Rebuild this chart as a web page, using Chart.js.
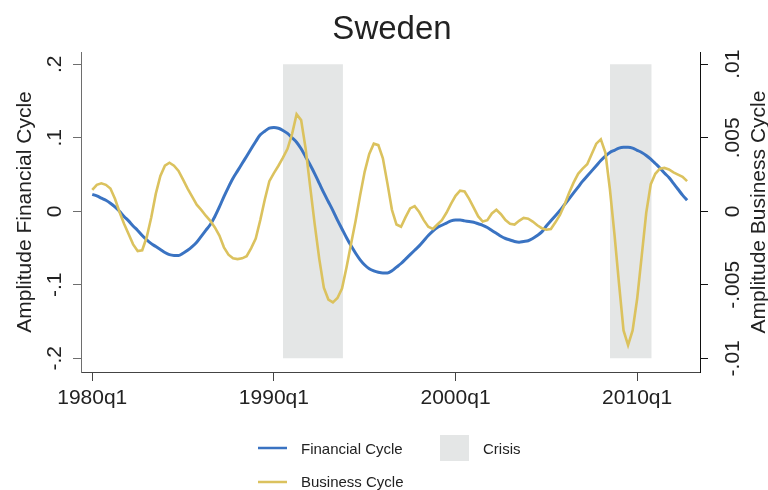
<!DOCTYPE html>
<html>
<head>
<meta charset="utf-8">
<title>Sweden</title>
<script src="https://cdn.jsdelivr.net/npm/chart.js@4.4.1/dist/chart.umd.min.js"></script>
<style>
  body { margin: 0; background: #fff; }
  #wrap { width: 768px; height: 490px; }
</style>
</head>
<body>
<div id="wrap"><canvas id="cycleChart" width="768" height="490"></canvas></div>
<script>
// quarterly, first obs 1980q1
const startYear = 1980;

const financialCycle = [
  0.023, 0.021, 0.018, 0.015, 0.011, 0.006, 0.000, -0.007, -0.013, -0.020,
  -0.026, -0.033, -0.039, -0.044, -0.048, -0.052, -0.056, -0.059, -0.060, -0.060,
  -0.057, -0.053, -0.048, -0.042, -0.034, -0.026, -0.018, -0.007, 0.006, 0.020,
  0.033, 0.045, 0.055, 0.065, 0.075, 0.085, 0.095, 0.104, 0.109, 0.113,
  0.114, 0.113, 0.110, 0.106, 0.100, 0.094, 0.085, 0.074, 0.063, 0.051,
  0.038, 0.025, 0.013, 0.001, -0.012, -0.024, -0.036, -0.047, -0.057, -0.066,
  -0.073, -0.078, -0.081, -0.083, -0.084, -0.084, -0.081, -0.076, -0.071, -0.065,
  -0.059, -0.053, -0.047, -0.040, -0.033, -0.027, -0.022, -0.019, -0.016, -0.013,
  -0.012, -0.012, -0.013, -0.014, -0.015, -0.017, -0.019, -0.022, -0.026, -0.030,
  -0.034, -0.037, -0.039, -0.041, -0.042, -0.041, -0.040, -0.037, -0.033, -0.028,
  -0.020, -0.013, -0.006, 0.001, 0.009, 0.017, 0.025, 0.033, 0.041, 0.048,
  0.055, 0.062, 0.069, 0.075, 0.080, 0.083, 0.086, 0.087, 0.087, 0.086,
  0.083, 0.080, 0.076, 0.071, 0.065, 0.059, 0.052, 0.046, 0.038, 0.030,
  0.022, 0.015
];

const businessCycle = [
  0.00145, 0.0018, 0.0019, 0.0018, 0.00155, 0.00085, -0.00005, -0.00085, -0.00155, -0.00225,
  -0.0027, -0.00265, -0.00175, -0.0004, 0.0012, 0.0024, 0.0031, 0.0033, 0.0031, 0.00275,
  0.00215, 0.00155, 0.001, 0.00045, 0.0001, -0.0003, -0.00065, -0.0011, -0.00165, -0.00245,
  -0.00295, -0.0032, -0.00325, -0.0032, -0.00305, -0.0025, -0.00185, -0.0006, 0.0008, 0.00205,
  0.0026, 0.0031, 0.00365, 0.00425, 0.00525, 0.0066, 0.0062, 0.00425, 0.00165, -0.0009,
  -0.00325, -0.0052, -0.006, -0.0062, -0.0059, -0.00525, -0.0038, -0.0022, -0.00065, 0.0011,
  0.0027, 0.0039, 0.0046, 0.0045, 0.0036, 0.0019, 0.0001, -0.0009, -0.00105, -0.0004,
  0.0002, 0.00035, -0.00005, -0.0006, -0.00105, -0.0012, -0.0009, -0.0006, -0.0001, 0.0005,
  0.00105, 0.0014, 0.00135, 0.00085, 0.00025, -0.00035, -0.0007, -0.0006, -0.00015, 0.0001,
  -0.0002, -0.0006, -0.00085, -0.0009, -0.00065, -0.00045, -0.0005, -0.0007, -0.00095, -0.00115,
  -0.00125, -0.0012, -0.00075, -0.00025, 0.00045, 0.00125, 0.00195, 0.00255, 0.0029, 0.0032,
  0.0039, 0.0046, 0.0049, 0.004, 0.0015, -0.00155, -0.0049, -0.0081, -0.0091, -0.0081,
  -0.00595, -0.00305, -0.0001, 0.00185, 0.00255, 0.0029, 0.00295, 0.00285, 0.00265, 0.0025,
  0.00235, 0.00205
];

// crisis episodes (in years)
const crisisStart = [1990.5, 2008.5];
const crisisEnd = [1993.8, 2010.8];

const xTickYears = [1980, 1990, 2000, 2010];
const leftTicks = [-0.2, -0.1, 0, 0.1, 0.2];
const leftTickLabels = ['-.2', '-.1', '0', '.1', '.2'];
const rightTicks = [-0.01, -0.005, 0, 0.005, 0.01];
const rightTickLabels = ['-.01', '-.005', '0', '.005', '.01'];

const blue = '#3a73c2';
const yellow = '#dbc25e';
const crisisGrey = '#e4e6e6';
const FONT = "'Liberation Sans', Arial, Helvetica, sans-serif";

Chart.defaults.font.family = FONT;
Chart.defaults.color = '#222';

const toPoints = arr => arr.map((v, i) => ({ x: startYear + i / 4, y: v }));

const crisisSets = crisisStart.map((s, k) => ({
    label: 'Crisis',
    data: [{ x: s, y: 0.2 }, { x: crisisEnd[k], y: 0.2 }],
    yAxisID: 'y',
    fill: { value: -0.2 },
    backgroundColor: crisisGrey,
    borderWidth: 0,
    pointRadius: 0,
    order: 3
}));

// axis titles (both read bottom-to-top like Stata) + two-column legend
const stataExtras = {
    id: 'stataExtras',
    afterDraw(chart) {
        const ctx = chart.ctx;
        const midY = (chart.chartArea.top + chart.chartArea.bottom) / 2;
        ctx.save();
        ctx.fillStyle = '#222';
        ctx.font = '21px ' + FONT;
        ctx.textAlign = 'center';
        ctx.textBaseline = 'middle';
        [[25, 'Amplitude Financial Cycle'], [759, 'Amplitude Business Cycle']].forEach(([x, txt]) => {
            ctx.save();
            ctx.translate(x, midY);
            ctx.rotate(-Math.PI / 2);
            ctx.fillText(txt, 0, 0);
            ctx.restore();
        });

        ctx.textAlign = 'left';
        ctx.font = '15px ' + FONT;
        ctx.lineWidth = 2.5;
        ctx.strokeStyle = blue;
        ctx.beginPath(); ctx.moveTo(258, 448); ctx.lineTo(287, 448); ctx.stroke();
        ctx.fillText('Financial Cycle', 301, 450);

        ctx.fillStyle = crisisGrey;
        ctx.fillRect(440, 435, 29, 26);
        ctx.fillStyle = '#222';
        ctx.fillText('Crisis', 483, 450);

        ctx.strokeStyle = yellow;
        ctx.beginPath(); ctx.moveTo(258, 482); ctx.lineTo(287, 482); ctx.stroke();
        ctx.fillText('Business Cycle', 301, 483);
        ctx.restore();
    }
};

const ctx = document.getElementById('cycleChart').getContext('2d');

new Chart(ctx, {
    type: 'line',
    data: {
        datasets: [
            {
                label: 'Business Cycle',
                data: toPoints(businessCycle),
                yAxisID: 'y1',
                borderColor: yellow,
                borderWidth: 2.6,
                pointRadius: 0,
                tension: 0,
                order: 1
            },
            {
                label: 'Financial Cycle',
                data: toPoints(financialCycle),
                yAxisID: 'y',
                borderColor: blue,
                borderWidth: 3,
                pointRadius: 0,
                cubicInterpolationMode: 'monotone',
                order: 2
            },
            ...crisisSets
        ]
    },
    options: {
        responsive: false,
        animation: false,
        devicePixelRatio: 1,
        layout: { padding: { left: 16, right: 0, top: 0, bottom: 0 } },
        plugins: {
            legend: { display: false },
            tooltip: { enabled: false },
            title: {
                display: true,
                text: 'Sweden',
                color: '#222',
                font: { size: 33, weight: 'normal' },
                padding: { top: 10, bottom: 2.4 }
            }
        },
        scales: {
            x: {
                type: 'linear',
                min: 1979.38,
                max: 2013.46,
                border: { color: '#444' },
                grid: { drawOnChartArea: false, tickLength: 9, color: '#444' },
                ticks: {
                    font: { size: 21 },
                    color: '#222',
                    padding: 5,
                    autoSkip: false,
                    maxRotation: 0,
                    callback: v => v + 'q1'
                },
                afterBuildTicks: s => { s.ticks = xTickYears.map(v => ({ value: v })); },
                afterFit: s => { s.height = 118; }
            },
            y: {
                position: 'left',
                min: -0.2186,
                max: 0.2167,
                border: { color: '#6e6e6e' },
                grid: { drawOnChartArea: false, tickLength: 8, color: '#6e6e6e' },
                ticks: {
                    font: { size: 21 },
                    color: '#222',
                    minRotation: 90,
                    maxRotation: 90,
                    crossAlign: 'center',
                    padding: 6,
                    callback: (v, i) => leftTickLabels[i]
                },
                afterBuildTicks: s => { s.ticks = leftTicks.map(v => ({ value: v })); },
                afterFit: s => { s.width = 65; }
            },
            y1: {
                position: 'right',
                min: -0.01093,
                max: 0.010835,
                border: { color: '#111' },
                grid: { drawOnChartArea: false, tickLength: 8, color: '#111' },
                ticks: {
                    font: { size: 21 },
                    color: '#222',
                    minRotation: 90,
                    maxRotation: 90,
                    crossAlign: 'center',
                    padding: 1,
                    callback: (v, i) => rightTickLabels[i]
                },
                afterBuildTicks: s => { s.ticks = rightTicks.map(v => ({ value: v })); },
                afterFit: s => { s.width = 68; }
            }
        }
    },
    plugins: [stataExtras]
});
</script>
</body>
</html>
